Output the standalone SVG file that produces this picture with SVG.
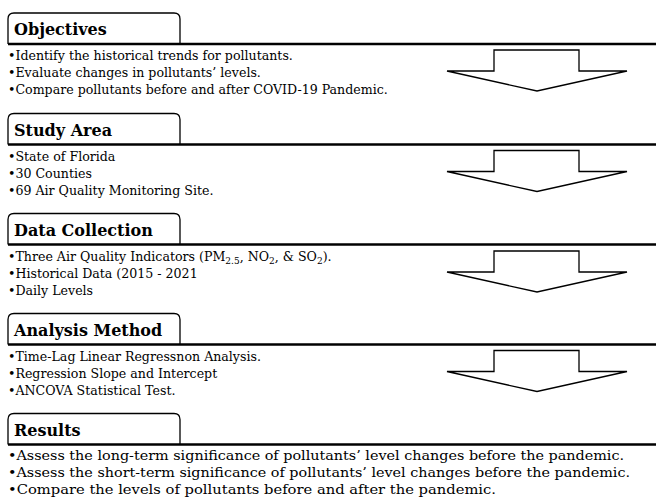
<svg xmlns="http://www.w3.org/2000/svg" width="656" height="500" viewBox="0 0 656 500">
<style>
.bg{fill:#ffffff}
.tab{fill:#ffffff;stroke:#000;stroke-width:1.3}
.rule{stroke:#000;stroke-width:2.6}
.arrow{fill:#ffffff;stroke:#000;stroke-width:1.3;stroke-linejoin:miter}
.title{font-family:"DejaVu Serif","Liberation Serif",serif;font-weight:bold;font-size:16px;fill:#000}
.item{font-family:"DejaVu Serif","Liberation Serif",serif;font-size:12.6px;fill:#000}
.big{font-size:13.2px}
.sub{font-size:9px}
</style>
<defs>
<path id="tabshape" d="M8,44 V19 Q8,13 14,13 H174 Q180,13 180,19 V44"/>
<path id="arrowshape" d="M494,71 V50 H579 V71 H627 L537,91 L447,71 Z"/>
</defs>
<rect class="bg" x="0" y="0" width="656" height="500"/>

<g id="connectors">
<use href="#arrowshape" class="arrow" transform="translate(0,0)"/>
<use href="#arrowshape" class="arrow" transform="translate(0,100.5)"/>
<use href="#arrowshape" class="arrow" transform="translate(0,201)"/>
<use href="#arrowshape" class="arrow" transform="translate(0,300.5)"/>
</g>

<g id="objectives">
<use href="#tabshape" class="tab"/>
<line class="rule" x1="8" y1="44" x2="656" y2="44"/>
<text class="title" x="14" y="35">Objectives</text>
<text class="item" x="8" y="60">•Identify the historical trends for pollutants.</text>
<text class="item" x="8" y="77">•Evaluate changes in pollutants’ levels.</text>
<text class="item" x="8" y="94">•Compare pollutants before and after COVID-19 Pandemic.</text>
</g>

<g id="study-area" transform="translate(0,100.5)">
<use href="#tabshape" class="tab"/>
<line class="rule" x1="8" y1="44" x2="656" y2="44"/>
<text class="title" x="14" y="35">Study Area</text>
<text class="item" x="8" y="60">•State of Florida</text>
<text class="item" x="8" y="77">•30 Counties</text>
<text class="item" x="8" y="94">•69 Air Quality Monitoring Site.</text>
</g>

<g id="data-collection" transform="translate(0,200.5)">
<use href="#tabshape" class="tab"/>
<line class="rule" x1="8" y1="44" x2="656" y2="44"/>
<text class="title" x="14" y="35">Data Collection</text>
<text class="item" x="8" y="60">•Three Air Quality Indicators (PM<tspan class="sub" dy="3">2.5</tspan><tspan dy="-3">, NO</tspan><tspan class="sub" dy="3">2</tspan><tspan dy="-3">, &amp; SO</tspan><tspan class="sub" dy="3">2</tspan><tspan dy="-3">).</tspan></text>
<text class="item" x="8" y="77">•Historical Data (2015 - 2021</text>
<text class="item" x="8" y="94">•Daily Levels</text>
</g>

<g id="analysis-method" transform="translate(0,300.5)">
<use href="#tabshape" class="tab"/>
<line class="rule" x1="8" y1="44" x2="656" y2="44"/>
<text class="title" x="14" y="35">Analysis Method</text>
<text class="item" x="8" y="60">•Time-Lag Linear Regressnon Analysis.</text>
<text class="item" x="8" y="77">•Regression Slope and Intercept</text>
<text class="item" x="8" y="94">•ANCOVA Statistical Test.</text>
</g>

<g id="results" transform="translate(0,400.5)">
<use href="#tabshape" class="tab"/>
<line class="rule" x1="8" y1="44" x2="656" y2="44"/>
<text class="title" x="14" y="35">Results</text>
<text class="item big" x="8" y="59" textLength="616" lengthAdjust="spacingAndGlyphs">•Assess the long-term significance of pollutants’ level changes before the pandemic.</text>
<text class="item big" x="8" y="76" textLength="622" lengthAdjust="spacingAndGlyphs">•Assess the short-term significance of pollutants’ level changes before the pandemic.</text>
<text class="item big" x="8" y="93" textLength="488" lengthAdjust="spacingAndGlyphs">•Compare the levels of pollutants before and after the pandemic.</text>
</g>
</svg>
